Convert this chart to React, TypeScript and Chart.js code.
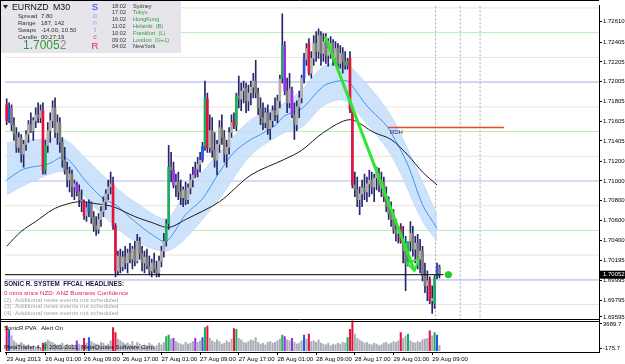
import React, { useEffect, useRef } from "react";
import { Chart, registerables } from "chart.js";
Chart.register(...registerables);

const FONT = "'Liberation Sans', Arial, sans-serif";

// ---------- OHLC (EURNZD, M30) ----------
const openP = [
  1.7177,1.7161,1.7174,1.7157,1.7147,1.7134,1.7144,1.7127,1.7137,1.7147,
  1.7157,1.7151,1.7161,1.7167,1.7164,1.7171,1.7111,1.7136,1.7151,1.7161,
  1.7174,1.7149,1.7159,1.7139,1.7121,1.7111,1.7101,1.7107,1.7094,1.7097,
  1.7089,1.7081,1.7079,1.7065,1.7069,1.7077,1.7063,1.7055,1.7051,1.7061,
  1.7069,1.7079,1.7087,1.7094,1.7097,1.7054,1.7009,1.7024,1.7013,1.7023,
  1.7017,1.7027,1.7021,1.7031,1.7019,1.7039,1.7027,1.7017,1.7023,1.7014,
  1.7009,1.7017,1.7011,1.7007,1.7019,1.7029,1.7039,1.7057,1.7114,1.7111,
  1.7096,1.7099,1.7089,1.7083,1.7091,1.7081,1.7093,1.7101,1.7106,1.7112,
  1.7117,1.7121,1.7135,1.7183,1.7134,1.7151,1.7131,1.7121,1.7137,1.7154,
  1.7144,1.7127,1.7134,1.7149,1.7161,1.7156,1.7186,1.7183,1.7191,1.7194,
  1.7181,1.7189,1.7195,1.7201,1.7189,1.7174,1.7164,1.7159,1.7169,1.7153,
  1.7161,1.7171,1.7167,1.7181,1.7204,1.7237,1.7191,1.7179,1.7192,1.7167,
  1.7157,1.7175,1.7184,1.7204,1.7223,1.7239,1.7209,1.7224,1.7239,1.7231,
  1.7247,1.7229,1.7241,1.7227,1.7234,1.7239,1.7224,1.7234,1.7219,1.7229,
  1.7221,1.7217,1.7224,1.7172,1.7096,1.7091,1.7081,1.7087,1.7093,1.7089,
  1.7097,1.7101,1.7094,1.7103,1.7107,1.7095,1.7099,1.7084,1.7074,1.7067,
  1.7061,1.7051,1.7047,1.7053,1.7039,1.7029,1.7017,1.7039,1.7047,1.7031,
  1.7037,1.7021,1.7029,1.7004,1.6994,1.6999,1.6979,1.6976,1.7004,1.7013,
];
const highP = [
  1.7183,1.7179,1.7177,1.7164,1.7154,1.7149,1.7147,1.7141,1.7151,1.7161,
  1.7169,1.7164,1.7174,1.7179,1.7177,1.7179,1.7141,1.7159,1.7169,1.7181,
  1.7184,1.7167,1.7164,1.7144,1.7134,1.7119,1.7114,1.7111,1.7101,1.7099,
  1.7096,1.7091,1.7081,1.7079,1.7081,1.7079,1.7069,1.7064,1.7067,1.7074,
  1.7084,1.7091,1.7101,1.7109,1.7104,1.7057,1.7029,1.7031,1.7029,1.7034,
  1.7031,1.7037,1.7034,1.7039,1.7046,1.7043,1.7034,1.7029,1.7031,1.7024,
  1.7021,1.7027,1.7019,1.7024,1.7034,1.7047,1.7061,1.7136,1.7129,1.7119,
  1.7107,1.7109,1.7101,1.7094,1.7099,1.7097,1.7107,1.7114,1.7119,1.7124,
  1.7129,1.7139,1.7201,1.7189,1.7167,1.7164,1.7149,1.7141,1.7161,1.7167,
  1.7151,1.7141,1.7154,1.7167,1.7169,1.7189,1.7206,1.7199,1.7201,1.7199,
  1.7197,1.7201,1.7209,1.7222,1.7194,1.7184,1.7179,1.7174,1.7177,1.7169,
  1.7176,1.7184,1.7187,1.7207,1.7269,1.7241,1.7204,1.7209,1.7195,1.7179,
  1.7181,1.7191,1.7207,1.7229,1.7239,1.7244,1.7231,1.7247,1.7251,1.7254,
  1.7251,1.7249,1.7249,1.7244,1.7246,1.7243,1.7241,1.7239,1.7237,1.7235,
  1.7231,1.7224,1.7231,1.7175,1.7109,1.7104,1.7094,1.7101,1.7107,1.7104,
  1.7111,1.7109,1.7107,1.7114,1.7113,1.7109,1.7104,1.7094,1.7084,1.7079,
  1.7071,1.7061,1.7054,1.7057,1.7054,1.7044,1.7039,1.7059,1.7054,1.7044,
  1.7046,1.7041,1.7034,1.7017,1.7009,1.7003,1.6994,1.7004,1.7017,1.7015,
];
const lowP = [
  1.7157,1.7159,1.7151,1.7141,1.7129,1.7129,1.7119,1.7114,1.7131,1.7139,
  1.7149,1.7141,1.7154,1.7159,1.7159,1.7107,1.7107,1.7129,1.7139,1.7154,
  1.7144,1.7137,1.7129,1.7114,1.7107,1.7094,1.7089,1.7084,1.7081,1.7085,
  1.7074,1.7069,1.7061,1.7059,1.7064,1.7057,1.7049,1.7045,1.7047,1.7054,
  1.7064,1.7071,1.7081,1.7087,1.7051,1.7003,1.7005,1.7007,1.7009,1.7011,
  1.7007,1.7017,1.7011,1.7014,1.7017,1.7021,1.7009,1.7007,1.7011,1.7005,
  1.7003,1.7007,1.7003,1.7003,1.7013,1.7023,1.7034,1.7051,1.7099,1.7093,
  1.7084,1.7081,1.7076,1.7074,1.7076,1.7077,1.7087,1.7094,1.7103,1.7104,
  1.7109,1.7119,1.7131,1.7129,1.7129,1.7124,1.7114,1.7106,1.7129,1.7137,
  1.7119,1.7114,1.7127,1.7144,1.7153,1.7151,1.7174,1.7171,1.7179,1.7169,
  1.7171,1.7177,1.7184,1.7184,1.7167,1.7157,1.7152,1.7154,1.7147,1.7142,
  1.7155,1.7161,1.7159,1.7174,1.7199,1.7187,1.7169,1.7174,1.7164,1.7142,
  1.7151,1.7164,1.7179,1.7199,1.7217,1.7207,1.7204,1.7217,1.7221,1.7224,
  1.7217,1.7221,1.7219,1.7216,1.7224,1.7217,1.7219,1.7211,1.7214,1.7209,
  1.7213,1.7213,1.7169,1.7093,1.7084,1.7074,1.7066,1.7074,1.7081,1.7079,
  1.7084,1.7087,1.7079,1.7091,1.7089,1.7084,1.7079,1.7069,1.7061,1.7054,
  1.7047,1.7039,1.7037,1.7037,1.7017,1.6989,1.7014,1.7029,1.7024,1.7017,
  1.7011,1.7007,1.6999,1.6987,1.6979,1.6976,1.6966,1.6971,1.7001,1.7002,
];
const closeP = [
  1.7161,1.7174,1.7157,1.7147,1.7134,1.7144,1.7127,1.7137,1.7147,1.7157,
  1.7151,1.7161,1.7167,1.7164,1.7171,1.7111,1.7136,1.7151,1.7161,1.7174,
  1.7149,1.7159,1.7139,1.7121,1.7111,1.7101,1.7107,1.7094,1.7097,1.7089,
  1.7081,1.7079,1.7065,1.7073,1.7077,1.7063,1.7055,1.7051,1.7061,1.7069,
  1.7079,1.7087,1.7094,1.7097,1.7054,1.7009,1.7024,1.7013,1.7023,1.7017,
  1.7027,1.7021,1.7031,1.7019,1.7039,1.7027,1.7017,1.7023,1.7014,1.7009,
  1.7017,1.7011,1.7007,1.7019,1.7029,1.7039,1.7057,1.7114,1.7111,1.7096,
  1.7099,1.7089,1.7083,1.7091,1.7081,1.7093,1.7101,1.7106,1.7112,1.7117,
  1.7121,1.7135,1.7184,1.7134,1.7151,1.7131,1.7121,1.7137,1.7154,1.7144,
  1.7127,1.7134,1.7149,1.7159,1.7156,1.7186,1.7183,1.7191,1.7194,1.7181,
  1.7189,1.7195,1.7201,1.7189,1.7174,1.7164,1.7159,1.7169,1.7153,1.7161,
  1.7171,1.7167,1.7181,1.7203,1.7237,1.7191,1.7179,1.7193,1.7167,1.7157,
  1.7175,1.7184,1.7204,1.7223,1.7234,1.7209,1.7224,1.7239,1.7231,1.7247,
  1.7229,1.7241,1.7227,1.7234,1.7239,1.7224,1.7234,1.7219,1.7229,1.7221,
  1.7217,1.7221,1.7172,1.7096,1.7091,1.7081,1.7087,1.7093,1.7089,1.7097,
  1.7101,1.7094,1.7103,1.7107,1.7095,1.7099,1.7084,1.7074,1.7067,1.7061,
  1.7051,1.7047,1.7053,1.7039,1.7029,1.7017,1.7039,1.7047,1.7031,1.7037,
  1.7021,1.7029,1.7004,1.6994,1.6999,1.6979,1.6981,1.7002,1.7013,1.70052,
];

// ---------- SonicR PVA volume ----------
const volume = [
  3000,2500,1800,1200,900,700,1000,800,600,700,
  500,600,450,500,400,900,1000,1300,1100,1000,
  800,600,700,900,600,800,500,700,600,1200,
  800,600,1500,900,1600,1100,900,800,700,1000,
  900,600,800,1200,2800,2200,1400,1200,1000,800,
  900,700,1100,600,1000,800,500,700,600,900,
  700,500,600,900,700,1000,1700,1900,1400,1500,
  1100,900,800,700,1000,800,900,1100,1500,1000,
  1200,1600,2800,3000,1500,1200,1000,1300,1100,800,
  900,1200,1000,1400,2700,2600,1500,1300,1000,900,
  1100,1300,1200,1600,1000,800,900,700,1000,1100,
  900,1000,1200,1400,1900,1700,1300,1200,1500,1000,
  800,900,1200,1900,1400,2000,1100,1200,1000,1300,
  900,800,700,900,600,800,700,900,800,1000,
  900,1600,2600,3650,2000,1500,1300,1100,900,1000,
  800,700,900,800,600,700,900,1000,800,900,
  1100,1000,1200,2200,1500,1800,2000,1200,1000,900,
  1100,1000,1300,1400,1500,2400,1800,2200,1900,600,
];
const pvaRed = [0, 15, 32, 44, 45, 83, 94, 125, 142, 143, 163, 175];
const pvaGreen = [16, 66, 67, 82, 95, 114, 141, 166, 177];
const pvaBlue = [1, 34, 81, 123, 178];
const pvaPurple = [29, 69, 78, 115, 118];

// ---------- Sonic R dragon (EMA34 high / low / close) and EMA89 ----------
const bandIdx = [0, 12, 24, 33, 44, 53, 66, 74, 88, 101, 115, 122, 131, 139, 145, 159, 172, 178];
const bandHigh = [1.7139,1.7142,1.7142,1.7122,1.7096,1.7079,1.7062,1.7089,1.7129,1.7162,1.7179,1.7192,1.7216,1.7219,1.7209,1.7166,1.7099,1.7066];
const bandLow = [1.7086,1.7101,1.7109,1.7082,1.7056,1.7039,1.7029,1.7042,1.7082,1.7126,1.7149,1.7154,1.7176,1.7182,1.7169,1.7126,1.7059,1.7039];
const emaMidIdx = [0, 7, 17, 24, 33, 40, 45, 53, 60, 66, 74, 81, 88, 94, 101, 105, 111, 115, 122, 131, 137, 141, 143, 149, 156, 159, 166, 172, 178];
const emaMid = [1.7101,1.7112,1.7117,1.7124,1.7099,1.7082,1.7076,1.7059,1.7046,1.7039,1.7066,1.7082,1.7109,1.7129,1.7142,1.7147,1.7156,1.7166,1.7173,1.7196,1.7201,1.7201,1.7196,1.7176,1.7159,1.7149,1.7116,1.7076,1.7052];
const ema89Idx = [0, 6, 12, 19, 24, 30, 37, 44, 53, 60, 67, 74, 88, 101, 115, 122, 131, 142, 152, 159, 166, 172, 178];
const ema89 = [1.7034,1.7049,1.7059,1.7071,1.7076,1.7079,1.7077,1.7074,1.7064,1.7058,1.7053,1.7061,1.7079,1.7106,1.7122,1.7131,1.7149,1.7162,1.7149,1.7142,1.7126,1.7109,1.7096];

// ---------- levels / objects ----------
const levelsRound = [1.72, 1.71, 1.70];
const levelsHalf = [1.725, 1.715, 1.705];
const levelsQuarter = [1.7275, 1.7225, 1.7175, 1.7125, 1.7075, 1.7025, 1.6975];
const vLinesIdx = [177.4, 187.6, 195.8];
const rdhLevel = 1.7154;
const rdhRange = [157.7, 205.7];
const arrowLine = [{ x: 131.8, y: 1.7246 }, { x: 168.7, y: 1.7009 }];
const arrowHead = [{ x: 165.5, y: 1.7017 }, { x: 170.4, y: 1.7021 }, { x: 168.7, y: 1.7009 }, { x: 165.5, y: 1.7017 }];
const currentPrice = 1.70052;
const bidLineEnd = 180.7;
const markerIdx = 182.7;

// ---------- axes ----------
const priceTicks = [1.7261,1.72405,1.72205,1.72005,1.71805,1.71605,1.71405,1.712,1.71,1.708,1.706,1.704,1.70195,1.69995,1.69795,1.69595];
const volTicks = [-175.7, 3689.7];
const xTickIdx = [0, 16, 32, 48, 64, 80, 96, 112, 128, 144, 160, 176];
const xTickLabels = ["23 Aug 2013","26 Aug 01:00","26 Aug 09:00","26 Aug 17:00","27 Aug 01:00","27 Aug 09:00","27 Aug 17:00","28 Aug 01:00","28 Aug 09:00","28 Aug 17:00","29 Aug 01:00","29 Aug 09:00"];
const X_MIN = -0.7, X_MAX = 245;
const P_MIN = 1.6959, P_MAX = 1.7278;
const V_MIN = -175.7, V_MAX = 3689.7;

// ---------- texts ----------
const infoLabels = ["Spread", "Range", "Swaps", "Candle"];
const infoValues = ["7.80", "187, 142", "-14.00, 10.50", "00:27:19"];
const sessionTimes = ["18:02", "17:02", "16:02", "11:02", "10:02", "09:02", "04:02"];
const sessionCities = ["Sydney", "Tokyo", "HongKong", "Helsinki  (B)", "Frankfurt  (L)", "London  (G+1)", "NewYork"];
const sessionOpen = [false, true, true, true, true, true, false];
const headlines = [
  "SONIC R. SYSTEM  FFCAL HEADLINES:",
  "0 mins since NZD: ANZ Business Confidence",
  "(2)  Additional news events not scheduled",
  "(3)  Additional news events not scheduled",
  "(4)  Additional news events not scheduled",
];

const C_RED = "#e3123f", C_GREEN = "#1fae5a", C_BLUE = "#2a55e6", C_PURPLE = "#9b2fe8";
function pvaColor(i: number, normal: string) {
  if (pvaRed.includes(i)) return C_RED;
  if (pvaGreen.includes(i)) return C_GREEN;
  if (pvaBlue.includes(i)) return C_BLUE;
  if (pvaPurple.includes(i)) return C_PURPLE;
  return normal;
}

const hLine = (v: number, color: string, w: number, order: number) => ({
  type: "line" as const,
  data: [{ x: X_MIN, y: v }, { x: X_MAX, y: v }],
  borderColor: color, borderWidth: w, pointRadius: 0, order, yAxisID: "y",
});

const overlay = {
  id: "mt4overlay",
  beforeDraw(chart: any) {
    const ctx = chart.ctx;
    ctx.save();
    ctx.fillStyle = "#ffffff";
    ctx.fillRect(0, 0, chart.width, chart.height);
    ctx.restore();
  },
  afterDraw(chart: any) {
    const ctx = chart.ctx;
    const ys = chart.scales.y, vs = chart.scales.v, xs = chart.scales.x;
    ctx.save();
    // frames
    ctx.strokeStyle = "#000"; ctx.lineWidth = 1;
    ctx.beginPath();
    ctx.moveTo(0, 0.5); ctx.lineTo(xs.right, 0.5);
    ctx.moveTo(0.5, 0); ctx.lineTo(0.5, vs.bottom);
    ctx.moveTo(0, Math.round(ys.bottom) - 0.5); ctx.lineTo(xs.right, Math.round(ys.bottom) - 0.5);
    ctx.moveTo(0, Math.round(vs.top) + 1.5); ctx.lineTo(xs.right, Math.round(vs.top) + 1.5);
    ctx.stroke();

    ctx.textBaseline = "middle"; ctx.textAlign = "left";
    const t = (s: string, x: number, y: number, size: number, color: string, weight = "") => {
      ctx.font = `${weight} ${size}px ${FONT}`;
      ctx.fillStyle = color;
      ctx.fillText(s, x, y);
    };
    // info panel
    ctx.fillStyle = "#e5e5eb";
    ctx.fillRect(1, 1, 180, 52);
    ctx.fillStyle = "#222";
    ctx.beginPath(); ctx.moveTo(3, 5); ctx.lineTo(8, 5); ctx.lineTo(5.5, 9); ctx.closePath(); ctx.fill();
    t("EURNZD", 12, 8, 8.8, "#111");
    t("M30", 53, 8, 8.8, "#111");
    infoLabels.forEach((s, k) => {
      t(s, 18, 16.3 + k * 7, 6, "#333");
      t(infoValues[k], 41, 16.3 + k * 7, 6, "#333");
    });
    const big = currentPrice.toFixed(5);
    const head = big.slice(0, 6);
    t(head, 23, 45.5, 12, "#2e9a35");
    ctx.font = `12px ${FONT}`;
    const w = ctx.measureText(head).width;
    t(big.slice(6), 23 + w, 45.5, 12, "#8a8a8a");
    ctx.textAlign = "center";
    t("S", 95, 7, 9.5, "#2036e0");
    t("o", 95, 16.5, 7, "#7aa2f0");
    t("n", 95, 23.5, 7, "#a4a4e4");
    t("i", 95, 30.5, 7, "#cc66cc");
    t("c", 95, 37.5, 7, "#e2448e");
    t("R", 95, 46, 9.5, "#e8204a");
    ctx.textAlign = "left";
    sessionTimes.forEach((s, k) => {
      const y = 6 + k * 6.8;
      t(s, 112, y, 5.6, "#333");
      t(sessionCities[k], 133, y, 5.6, sessionOpen[k] ? "#2f9e3a" : "#333");
    });
    // headlines
    headlines.forEach((s, k) => {
      const y = [284.5, 293, 300, 306.7, 313][k];
      if (k === 0) t(s, 4, y, 6.3, "#1a1a3a", "bold");
      else if (k === 1) t(s, 4, y, 6.2, "#e8204a");
      else t(s, 4, y, 6.2, "#a4a4a4");
    });
    // RDH label
    t("RDH", xs.getPixelForValue(rdhRange[0]) + 2, ys.getPixelForValue(rdhLevel) + 5, 6, "#1e2a6e");
    // volume panel labels
    t("SonicR PVA", 4, 328, 6, "#111");
    t("Alert On", 41, 328, 6, "#111");
    t("MetaTrader 4, \u00a9 2001-2013, MetaQuotes Software Corp.", 4, 347.5, 6, "#111");
    // current price box
    const py = ys.getPixelForValue(currentPrice);
    ctx.fillStyle = "#000";
    ctx.fillRect(xs.right + 1, py - 4, 26, 8);
    t(currentPrice.toFixed(5), xs.right + 4, py, 6, "#fff");
    ctx.restore();
  },
};

export default function App() {
  const ref = useRef<HTMLCanvasElement>(null);
  useEffect(() => {
    document.body.style.margin = "0";
    const n = closeP.length;
    const idx = Array.from({ length: n }, (_, i) => i);
    const datasets: any[] = [
      ...levelsQuarter.map((v) => hLine(v, "#ece3d3", 1, 50)),
      ...levelsHalf.map((v) => hLine(v, "#b6ecb6", 1, 50)),
      ...levelsRound.map((v) => hLine(v, "#cdd0f4", 1.6, 50)),
      ...vLinesIdx.map((x) => ({
        type: "line", data: [{ x, y: P_MIN }, { x, y: P_MAX }],
        borderColor: "#a8a8a8", borderWidth: 1, borderDash: [2, 2], pointRadius: 0, order: 49, yAxisID: "y",
      })),
      {
        type: "line", data: bandIdx.map((x, k) => ({ x, y: bandHigh[k] })),
        borderColor: "rgba(150,190,240,0.55)", borderWidth: 0.6, backgroundColor: "rgba(196,222,250,0.85)",
        fill: "+1", pointRadius: 0, tension: 0.3, order: 30, yAxisID: "y",
      },
      {
        type: "line", data: bandIdx.map((x, k) => ({ x, y: bandLow[k] })),
        borderColor: "rgba(150,190,240,0.55)", borderWidth: 0.6, pointRadius: 0, tension: 0.3, order: 29, yAxisID: "y",
      },
      {
        type: "line", data: emaMidIdx.map((x, k) => ({ x, y: emaMid[k] })),
        borderColor: "#3f95ee", borderWidth: 1, pointRadius: 0, tension: 0.3, order: 28, yAxisID: "y",
      },
      {
        type: "line", data: ema89Idx.map((x, k) => ({ x, y: ema89[k] })),
        borderColor: "#1a1a1a", borderWidth: 1, pointRadius: 0, tension: 0.3, order: 27, yAxisID: "y",
      },
      {
        type: "bar", data: idx.map((i) => ({ x: i, y: [lowP[i], highP[i]] })),
        backgroundColor: "#26266a", barThickness: 1, grouped: false, order: 10, yAxisID: "y",
      },
      {
        type: "bar", data: idx.map((i) => ({ x: i, y: [openP[i], closeP[i]] })),
        backgroundColor: idx.map((i) => pvaColor(i, closeP[i] >= openP[i] ? "#b0b0b0" : "#7c7c7c")),
        barThickness: 2, minBarLength: 1, grouped: false, order: 9, yAxisID: "y",
      },
      {
        type: "line", data: [{ x: X_MIN, y: currentPrice }, { x: bidLineEnd, y: currentPrice }],
        borderColor: "#000", borderWidth: 1, pointRadius: 0, order: 5, yAxisID: "y",
      },
      {
        type: "line", data: [{ x: rdhRange[0], y: rdhLevel }, { x: rdhRange[1], y: rdhLevel }],
        borderColor: "#f0462a", borderWidth: 1.5, pointRadius: 0, order: 5, yAxisID: "y",
      },
      {
        type: "line", data: arrowLine, borderColor: "#2ee62e", borderWidth: 3, pointRadius: 0, order: 3, yAxisID: "y",
      },
      {
        type: "line", data: arrowHead, borderColor: "#2ee62e", borderWidth: 2, pointRadius: 0, order: 3, yAxisID: "y",
      },
      {
        type: "line", data: [{ x: markerIdx, y: currentPrice }], showLine: false,
        pointRadius: 3.2, pointBackgroundColor: "#22cc22", pointBorderColor: "#22cc22", order: 2, yAxisID: "y",
      },
      {
        type: "bar", data: idx.map((i) => ({ x: i, y: volume[i] })),
        backgroundColor: idx.map((i) => pvaColor(i, "#a9aeb8")),
        barThickness: 1.4, grouped: false, order: 10, yAxisID: "v",
      },
    ];
    const tickFont = { size: 6, family: FONT };
    // keep edge labels inside their panels (MT4 clamps them)
    const pInset = (P_MAX - P_MIN) * 0.011;
    const vInset = (V_MAX - V_MIN) * 0.11;
    const chart = new Chart(ref.current as HTMLCanvasElement, {
      type: "bar",
      data: { datasets },
      plugins: [overlay],
      options: {
        responsive: false,
        devicePixelRatio: 1,
        animation: false,
        events: [],
        layout: { padding: { top: 1, left: 0, right: 0, bottom: 0 } },
        plugins: { legend: { display: false }, tooltip: { enabled: false } },
        scales: {
          x: {
            type: "linear", position: "bottom", min: X_MIN, max: X_MAX, offset: false,
            afterBuildTicks: (s: any) => { s.ticks = xTickIdx.map((v) => ({ value: v })); },
            afterFit: (s: any) => { s.height = 12; s.paddingLeft = 0; s.paddingRight = 0; },
            ticks: {
              callback: (_v: any, i: number) => xTickLabels[i], align: "start",
              font: tickFont, color: "#000", padding: 1, maxRotation: 0, autoSkip: false,
            },
            grid: { drawOnChartArea: false, tickLength: 3, color: "#000", offset: false },
            border: { color: "#000" },
          },
          y: {
            type: "linear", position: "right", min: P_MIN, max: P_MAX, stack: "mt4", stackWeight: 319,
            afterBuildTicks: (s: any) => {
              s.ticks = priceTicks.map((v) => ({ value: Math.max(v, P_MIN + pInset) }));
            },
            afterFit: (s: any) => { s.width = 26; s.paddingTop = 0; s.paddingBottom = 0; },
            ticks: { callback: (_v: any, i: number) => priceTicks[i].toFixed(5), font: tickFont, color: "#000", padding: 1 },
            grid: { drawOnChartArea: false, tickLength: 3, color: "#000" },
            border: { color: "#000" },
          },
          v: {
            type: "linear", position: "right", min: V_MIN, max: V_MAX, stack: "mt4", stackWeight: 32,
            afterBuildTicks: (s: any) => {
              s.ticks = [{ value: V_MIN + vInset }, { value: V_MAX - vInset }];
            },
            afterFit: (s: any) => { s.width = 26; s.paddingTop = 0; s.paddingBottom = 0; },
            ticks: { callback: (_v: any, i: number) => volTicks[i].toFixed(1), font: tickFont, color: "#000", padding: 1 },
            grid: { drawOnChartArea: false, tickLength: 3, color: "#000" },
            border: { color: "#000" },
          },
        },
      } as any,
    });
    return () => chart.destroy();
  }, []);
  return (
    <div style={{ position: "absolute", left: 0, top: 0, width: 625, height: 364, background: "#fff" }}>
      <canvas ref={ref} width={625} height={364} style={{ display: "block", width: 625, height: 364 }} />
    </div>
  );
}
